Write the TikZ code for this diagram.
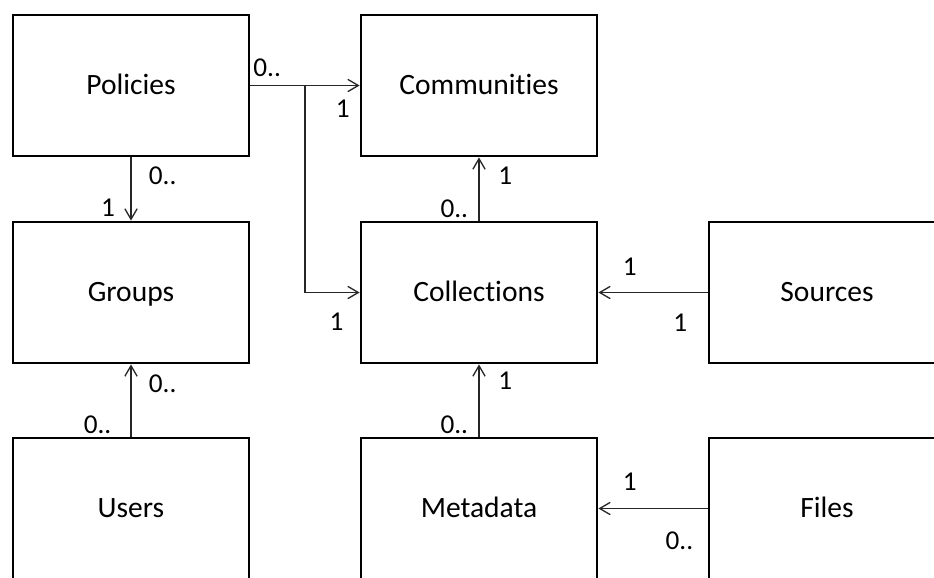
\documentclass[tikz,border=0pt]{standalone}
\usepackage{fontspec}
\setmainfont[Ligatures={NoCommon}]{Carlito}
\usetikzlibrary{arrows.meta,positioning}

\begin{document}
\begin{tikzpicture}[
    entity/.style={rectangle, draw=black, line width=1.6pt, fill=white, minimum width=4.72cm, minimum height=2.82cm, text height=2.35ex, text depth=0.3ex, font=\fontsize{16.8}{18}\selectfont},
    link/.style={-{Straight Barb[length=6pt,width=7pt]}, line width=0.75pt, black!85},
    mult/.style={inner sep=0pt, font=\fontsize{15.5}{17}\selectfont}]
    \path[use as bounding box, clip] (0,0) rectangle (18.68,-11.54);

    % Entities
    \node[entity] (pol) at (2.62,-1.71) {Policies};
    \node[entity] (com) at (9.58,-1.71) {Communities};
    \node[entity] (grp) at (2.62,-5.85) {Groups};
    \node[entity] (col) at (9.58,-5.85) {Collections};
    \node[entity] (src) at (16.54,-5.85) {Sources};
    \node[entity] (usr) at (2.62,-10.17) {Users};
    \node[entity] (meta) at (9.58,-10.17) {Metadata};
    \node[entity] (fil) at (16.54,-10.17) {Files};
    \coordinate (split) at (6.1,-1.71);

    % Relations
    \draw[link] (pol) -- (com);
    \draw[link] (split) |- (col.west);
    \draw[link] (pol) -- (grp);
    \draw[link] (col) -- (com);
    \draw[link] (src) -- (col);
    \draw[link] (usr) -- (grp);
    \draw[link] (meta) -- (col);
    \draw[link] (fil.west |- meta.east) -- (meta.east);

    % Multiplicities
    \node[mult, above right=5pt and 1.5pt of pol.east] (pcA) {0..};
    \node[mult, below left=8pt and 5.5pt of com.west] (pcB) {1};
    \node[mult, below left=11.5pt and 9pt of col.west] (pcC) {1};
    \node[mult, below right=5pt and 10pt of pol.south] (pgA) {0..};
    \node[mult, above left=2.3pt and 9pt of grp.north] (pgB) {1};
    \node[mult, above left=1.7pt and 6pt of col.north] (ccA) {0..};
    \node[mult, below right=5pt and 10.8pt of com.south] (ccB) {1};
    \node[mult, below left=12pt and 11.4pt of src.west] (scA) {1};
    \node[mult, above right=9.7pt and 13.7pt of col.east] (scB) {1};
    \node[mult, above left=1.2pt and 11pt of usr.north] (ugA) {0..};
    \node[mult, below right=5.7pt and 10pt of grp.south] (ugB) {0..};
    \node[mult, above left=1.2pt and 6pt of meta.north] (mcA) {0..};
    \node[mult, below right=4pt and 10.8pt of col.south] (mcB) {1};
    \node[mult, below left=13pt and 8pt of fil.west] (fmA) {0..};
    \node[mult, above right=10pt and 13.7pt of meta.east] (fmB) {1};
\end{tikzpicture}
\end{document}
